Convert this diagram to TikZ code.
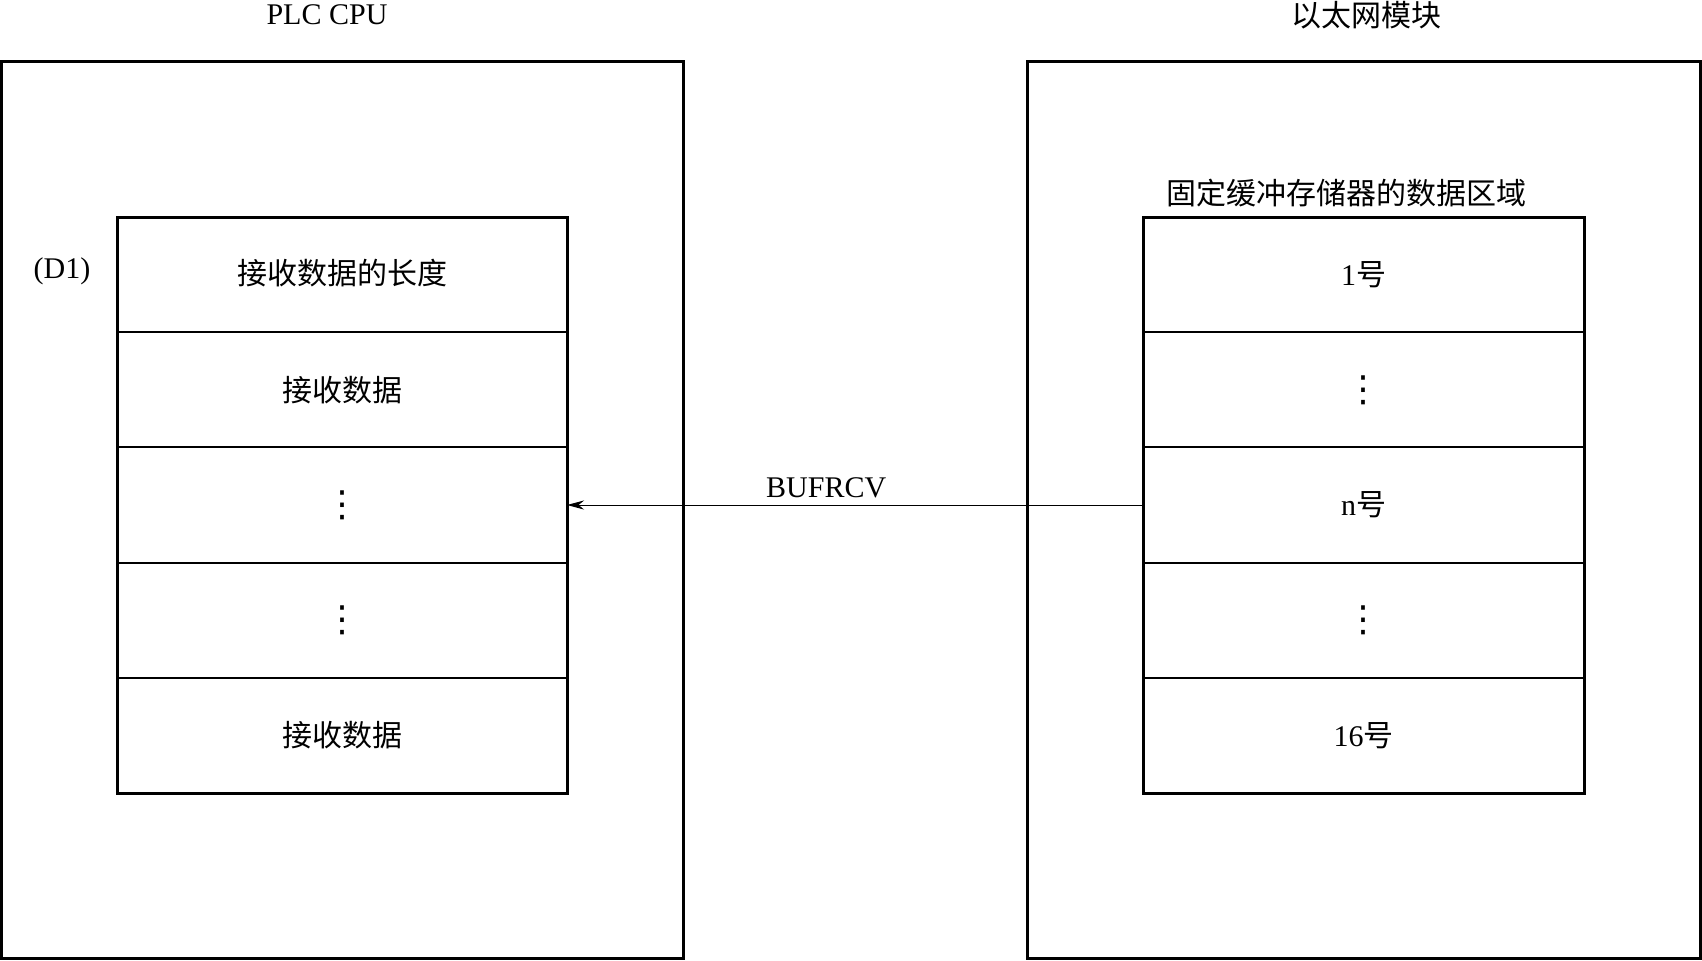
\documentclass[tikz,border=0pt]{standalone}
\usepackage{fontspec}
\setmainfont{Liberation Serif}
\newfontfamily\cjk{Noto Sans CJK SC}
\newfontfamily\symf{DejaVu Sans}
\usetikzlibrary{arrows.meta,positioning,fit}
\newcommand\rowdots{{\symf\fontsize{18}{18}\selectfont ⋮}}

\begin{document}
\begin{tikzpicture}[x=0.5pt,y=-0.5pt,node distance=0pt,
  font=\fontsize{15}{18}\selectfont,
  panel/.style={draw,line width=1.5pt,inner sep=0pt},
  lcell/.style={draw,line width=1pt,outer sep=0pt,minimum width=225pt,minimum height=57.6pt,inner sep=0pt},
  rcell/.style={draw,line width=1pt,outer sep=0pt,minimum width=220.5pt,minimum height=57.6pt,inner sep=0pt},
  frame/.style={draw,line width=1.5pt,inner sep=0pt},
  arrow/.style={-{Stealth[length=3mm,width=1.6mm]}, line width=0.5pt}]
  \useasboundingbox (0,0) rectangle (1702,960);
  % the two modules
  \node[panel,minimum width=340.75pt,minimum height=448.5pt] (plc) at (342.25,509.5) {};
  \node[panel,minimum width=336.75pt,minimum height=448.5pt] (eth) at (1363.75,509.5) {};
  \node (plcT) at (327,15) {PLC CPU};
  \node (ethT) at (1366,15) {\cjk 以太网模块};
  % PLC CPU side
  \node[lcell] (l1) at (342,274.6) {\raisebox{3pt}{\cjk 接收数据的长度}};
  \node[lcell, below=of l1] (l2) {\cjk 接收数据};
  \node[lcell, below=of l2] (l3) {\rowdots};
  \node[lcell, below=of l3] (l4) {\rowdots};
  \node[lcell, below=of l4] (l5) {\cjk 接收数据};
  \node[frame, fit=(l1)(l5)] (lbuf) {};
  \node (d1) at (62,271) {(D1)};
  % Ethernet module side
  \node[rcell] (r1) at (1363.5,274.6) {\raisebox{-2pt}{1{\cjk 号}}};
  \node[rcell, below=of r1] (r2) {\rowdots};
  \node[rcell, below=of r2] (r3) {\raisebox{-5pt}{n{\cjk 号}}};
  \node[rcell, below=of r3] (r4) {\rowdots};
  \node[rcell, below=of r4] (r5) {16{\cjk 号}};
  \node[frame, fit=(r1)(r5)] (rbuf) {};
  \node (rbufT) at (1346,193) {\cjk 固定缓冲存储器的数据区域};
  \draw[arrow] (r3.west) -- node[above, pos=0.55] {BUFRCV} (l3.east);
\end{tikzpicture}
\end{document}
